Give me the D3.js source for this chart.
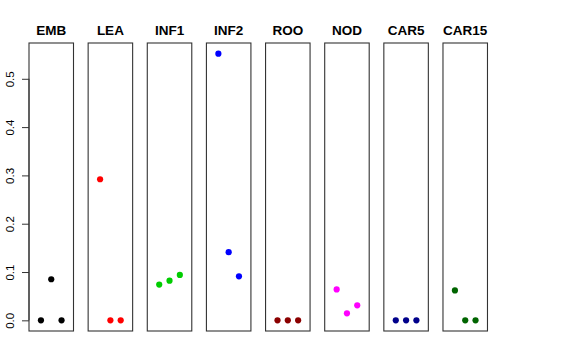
<!DOCTYPE html>
<html><head><meta charset="utf-8">
<script src="https://cdn.jsdelivr.net/npm/d3@7"></script>
<style>body{margin:0;background:#fff;}svg{display:block;}</style>
</head><body>
<svg id="c" width="576" height="360"></svg>
<script>
const categories = ["EMB","LEA","INF1","INF2","ROO","NOD","CAR5","CAR15"];
const colors = ["#000000","#FF0000","#00CD00","#0000FF","#8B0000","#FF00FF","#00008B","#006400"];
const valuesEMB = [0, 0.085, 0];
const valuesLEA = [0.292, 0, 0];
const valuesINF1 = [0.074, 0.082, 0.094];
const valuesINF2 = [0.552, 0.141, 0.091];
const valuesROO = [0, 0, 0];
const valuesNOD = [0.064, 0.0145, 0.031];
const valuesCAR5 = [0, 0, 0];
const valuesCAR15 = [0.062, 0, 0];
const series = [valuesEMB, valuesLEA, valuesINF1, valuesINF2, valuesROO, valuesNOD, valuesCAR5, valuesCAR15];
const yTicks = [0, 0.1, 0.2, 0.3, 0.4, 0.5];
const yTickLabels = ["0.0","0.1","0.2","0.3","0.4","0.5"];

const svg = d3.select("#c");
const plotTop = 43, plotBottom = 331;
const panelW = 44.5, firstX = 29, step = 59.14;

const yMin = 0, yMax = 0.552, yPad = (yMax - yMin) * 0.04;
const y = d3.scaleLinear().domain([yMin - yPad, yMax + yPad]).range([plotBottom, plotTop]);

categories.forEach((cat, i) => {
  const x0 = firstX + i * step;
  const x = d3.scaleLinear().domain([0 - 0.16, 4 + 0.16]).range([x0, x0 + panelW]);
  const g = svg.append("g");
  g.append("rect").attr("x", x0).attr("y", plotTop).attr("width", panelW).attr("height", plotBottom - plotTop)
    .attr("fill", "none").attr("stroke", "#333").attr("stroke-width", 1.1);
  g.append("text").attr("x", x0 + panelW / 2).attr("y", 34.5).attr("text-anchor", "middle")
    .attr("font-family", "Liberation Sans, Arial, sans-serif").attr("font-weight", "bold").attr("font-size", 13.5)
    .text(cat);
  g.selectAll("circle").data(series[i]).enter().append("circle")
    .attr("cx", (d, j) => x(j + 1)).attr("cy", d => y(d)).attr("r", 3.1).attr("fill", colors[i]);
});

const axis = d3.axisLeft(y).tickValues(yTicks).tickFormat((d, i) => yTickLabels[i]).tickSize(7).tickPadding(4);
const ag = svg.append("g").attr("transform", `translate(${firstX},0)`).call(axis);
ag.select(".domain").attr("d", `M0,${y(0)}V${y(0.5)}`).attr("stroke", "#333");
ag.selectAll(".tick line").attr("stroke", "#333");
ag.selectAll(".tick text")
  .attr("font-family", "Liberation Sans, Arial, sans-serif").attr("font-size", 11.5).attr("fill", "#000")
  .attr("transform", "translate(-15,0) rotate(-90)")
  .attr("x", 0).attr("dy", "0").attr("text-anchor", "middle");
</script>
</body></html>
